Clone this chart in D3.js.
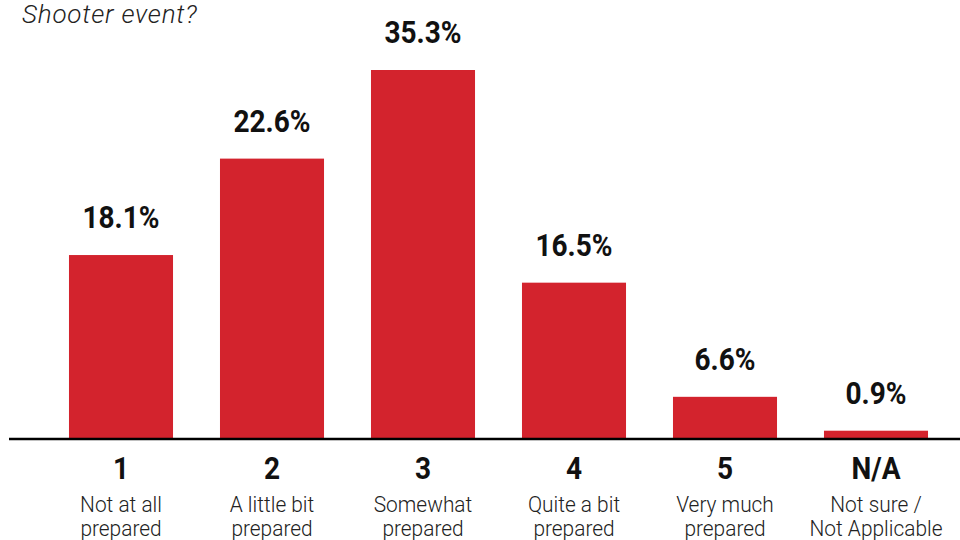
<!DOCTYPE html>
<html>
<head>
<meta charset="utf-8">
<script src="https://cdn.jsdelivr.net/npm/d3@7"></script>
<style>
  html, body { margin: 0; padding: 0; background: #fff; }
  svg { display: block; }
  text { font-family: Roboto, "Noto Sans", sans-serif; }
</style>
</head>
<body>
<svg id="chart" width="960" height="540"></svg>
<script>
// ---- data ----
const categories = ["1", "2", "3", "4", "5", "N/A"];
const subLabels = [
  ["Not at all", "prepared"],
  ["A little bit", "prepared"],
  ["Somewhat", "prepared"],
  ["Quite a bit", "prepared"],
  ["Very much", "prepared"],
  ["Not sure /", "Not Applicable"]
];
// percentages printed above the bars
const labelValues = [18.1, 22.6, 35.3, 16.5, 6.6, 0.9];
// bar lengths as drawn in the picture (same units as the 35.3% bar)
const barValues = [17.55, 26.8, 35.3, 14.9, 3.95, 0.7];
const titleLine = "Shooter event?";

// ---- layout ----
const svg = d3.select("#chart");
const baseY = 438;
const x = d3.scaleBand()
  .domain(categories)
  .range([45.5, 951.5])
  .paddingInner(0.311)
  .paddingOuter(0.1555);
const y = d3.scaleLinear()
  .domain([0, 35.3])
  .range([baseY, 70]);

const RED = "#d3232d";

// title (partially visible)
svg.append("text")
  .attr("x", 22)
  .attr("y", 23)
  .attr("font-size", 26)
  .attr("font-style", "italic")
  .attr("font-weight", 300)
  .attr("letter-spacing", 0.8)
  .attr("fill", "#222")
  .text(titleLine);

const data = categories.map((c, i) => ({ c, v: barValues[i], lab: labelValues[i], sub: subLabels[i] }));

svg.append("g").selectAll("rect")
  .data(data)
  .join("rect")
  .attr("x", d => x(d.c))
  .attr("width", x.bandwidth())
  .attr("y", d => y(d.v))
  .attr("height", d => y(0) - y(d.v))
  .attr("fill", RED);

// value labels (condensed look via horizontal scale)
svg.append("g").selectAll("text")
  .data(data)
  .join("text")
  .attr("transform", d => `translate(${x(d.c) + x.bandwidth() / 2},${y(d.v) - 27}) scale(0.89,1)`)
  .attr("text-anchor", "middle")
  .attr("font-size", 31.5)
  .attr("font-weight", 700)
  .attr("fill", "#111")
  .text(d => d.lab.toFixed(1) + "%");

// baseline axis
const axis = d3.axisBottom(x).tickSize(0).tickFormat("");
const axisG = svg.append("g")
  .attr("transform", `translate(0,${baseY})`)
  .call(axis);
axisG.select(".domain").remove();
axisG.append("line")
  .attr("x1", 9).attr("x2", 960)
  .attr("y1", 1).attr("y2", 1)
  .attr("stroke", "#000")
  .attr("stroke-width", 2.5);

// category labels
const catG = svg.append("g").selectAll("g")
  .data(data)
  .join("g")
  .attr("transform", d => `translate(${x(d.c) + x.bandwidth() / 2},0)`);

catG.append("text")
  .attr("transform", "translate(0,479) scale(0.92,1)")
  .attr("text-anchor", "middle")
  .attr("font-size", 30.5)
  .attr("font-weight", 700)
  .attr("fill", "#111")
  .text(d => d.c);

catG.append("text")
  .attr("transform", "scale(0.95,1)")
  .attr("text-anchor", "middle")
  .attr("font-size", 22)
  .attr("font-weight", 300)
  .attr("fill", "#222")
  .selectAll("tspan")
  .data(d => d.sub)
  .join("tspan")
  .attr("x", 0)
  .attr("y", (d, i) => 512 + i * 24.5)
  .text(d => d);
</script>
</body>
</html>
